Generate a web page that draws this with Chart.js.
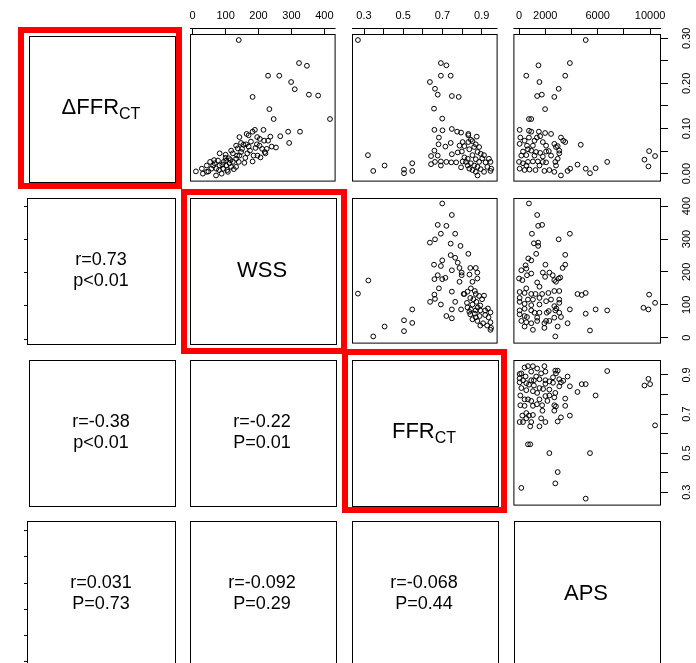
<!DOCTYPE html>
<html>
<head>
<meta charset="utf-8">
<script src="https://cdn.jsdelivr.net/npm/chart.js@4.4.1/dist/chart.umd.min.js"></script>
<style>
  html, body { margin: 0; padding: 0; background: #fff; overflow: hidden; }
  #fig { position: relative; width: 696px; height: 663px; overflow: hidden; font-family: 'Liberation Sans', Arial, sans-serif; }
  #fig canvas { position: absolute; }
  .txt { position: absolute; display: flex; flex-direction: column; align-items: center; justify-content: center; color: #000; text-align: center; }
  .stat { font-size: 18px; line-height: 21px; }
  .diag { font-size: 22px; line-height: 26px; }
  .diag sub { font-size: 16px; vertical-align: baseline; position: relative; top: 5px; }
  .frame { position: absolute; border: 6px solid #ff0000; box-sizing: border-box; }
</style>
</head>
<body>
<div id="fig"></div>
<script>
// ---- data ----
// row ΔFFR / column WSS
const dffrWssX = [140,323,347,229,263,299,310,182,353,381,233,246,417,215,326,290,266,236,293,253,217,189,182,164,170,142,196,204,229,177,147,154,162,132,137,174,191,203,211,219,197,182,206,221,117,122,100,82,110,132,140,157,132,112,94,77,67,53,43,28,10,31,48,71,88,57,93,102,117,82,72,43,107,122,142,147,166,102,62,90,115,125,160,185,150,170,195,225,240,105,80,65,135,100]
const dffrWssY = [0.296,0.245,0.239,0.217,0.217,0.203,0.187,0.170,0.175,0.173,0.143,0.121,0.121,0.097,0.093,0.093,0.083,0.082,0.068,0.058,0.073,0.097,0.093,0.088,0.085,0.081,0.081,0.077,0.073,0.071,0.068,0.064,0.065,0.062,0.056,0.051,0.057,0.062,0.055,0.048,0.040,0.027,0.036,0.045,0.051,0.045,0.042,0.045,0.034,0.033,0.026,0.024,0.015,0.023,0.026,0.029,0.023,0.026,0.018,0.011,0.005,0.000,0.005,-0.004,0.000,0.011,0.011,0.018,0.015,0.018,0.011,0.004,0.004,0.026,0.040,0.048,0.045,0.029,0.018,0.020,0.030,0.010,0.035,0.040,0.055,0.060,0.065,0.055,0.060,0.008,0.008,0.030,0.040,0.035]

// row ΔFFR / column FFR
const dffrFfrX = [0.269,0.692,0.720,0.692,0.742,0.636,0.662,0.676,0.748,0.783,0.657,0.699,0.659,0.700,0.748,0.775,0.795,0.682,0.742,0.680,0.715,0.659,0.748,0.642,0.676,0.662,0.642,0.692,0.720,0.745,0.770,0.692,0.803,0.795,0.320,0.405,0.347,0.504,0.504,0.546,0.546,0.832,0.832,0.875,0.853,0.832,0.812,0.787,0.862,0.837,0.879,0.799,0.895,0.912,0.853,0.829,0.870,0.887,0.920,0.945,0.845,0.862,0.837,0.879,0.895,0.929,0.949,0.912,0.879,0.853,0.945,0.812,0.820,0.903,0.937,0.870,0.845,0.870,0.803,0.778,0.887,0.829]
const dffrFfrY = [0.296,0.245,0.240,0.217,0.217,0.203,0.188,0.175,0.172,0.170,0.144,0.122,0.097,0.096,0.099,0.093,0.091,0.080,0.068,0.065,0.060,0.051,0.043,0.039,0.040,0.026,0.021,0.027,0.026,0.025,0.025,0.018,0.027,0.014,0.041,0.018,0.006,0.009,0.001,0.023,0.006,0.088,0.085,0.082,0.072,0.070,0.061,0.062,0.059,0.054,0.048,0.049,0.044,0.041,0.041,0.033,0.032,0.026,0.025,0.026,0.023,0.018,0.011,0.015,0.010,0.015,0.011,0.004,-0.004,0.008,0.006,0.036,0.026,0.034,0.033,0.004,0.075,0.065,0.070,0.047,0.059,0.018]

// row ΔFFR / column APS
const dffrApsX = [5087,3878,1482,552,3523,1557,3024,1383,1739,2691,1988,756,930,45,756,930,1512,1988,2442,3198,3373,3523,98,1361,1610,756,45,605,1058,2691,2948,2064,4709,302,930,1610,2064,2268,3069,3069,174,552,1179,1814,0,302,680,1058,1436,1814,2064,2767,2948,45,423,801,1255,1935,2313,2691,3198,3704,3900,4460,5087,5412,5843,6727,9570,9925,10379,9873,423,1179,1814,2820,680,1300,2442,2820,1557,552]
const dffrApsY = [0.296,0.245,0.240,0.217,0.217,0.203,0.188,0.172,0.175,0.170,0.143,0.121,0.121,0.097,0.095,0.093,0.093,0.090,0.088,0.080,0.073,0.070,0.080,0.080,0.083,0.080,0.066,0.062,0.062,0.066,0.061,0.062,0.064,0.049,0.051,0.046,0.049,0.050,0.051,0.045,0.040,0.041,0.040,0.038,0.026,0.023,0.026,0.027,0.027,0.026,0.025,0.026,0.033,0.011,0.008,0.009,0.008,0.006,0.008,0.004,-0.004,0.006,0.011,0.020,0.011,0.001,0.012,0.026,0.031,0.050,0.039,0.016,0.073,0.073,0.070,0.059,0.054,0.048,0.040,0.018,0.018,0.018]

// row WSS / column FFR
const wssFfrX = [0.699,0.748,0.676,0.720,0.692,0.765,0.662,0.636,0.742,0.792,0.832,0.742,0.699,0.765,0.778,0.657,0.692,0.787,0.842,0.870,0.748,0.798,0.838,0.878,0.878,0.676,0.699,0.659,0.715,0.798,0.787,0.853,0.322,0.269,0.682,0.748,0.808,0.845,0.865,0.659,0.662,0.637,0.692,0.765,0.748,0.795,0.546,0.720,0.748,0.504,0.546,0.405,0.504,0.347,0.812,0.828,0.842,0.870,0.887,0.912,0.825,0.853,0.873,0.893,0.845,0.870,0.893,0.918,0.945,0.842,0.865,0.890,0.918,0.935,0.853,0.878,0.907,0.945,0.893,0.928,0.948,0.945,0.870,0.828,0.932,0.858,0.880,0.902,0.837]
const wssFfrY = [408,373,343,340,316,316,299,289,286,279,255,251,235,243,228,222,218,212,212,212,205,198,192,198,180,190,178,178,182,190,170,170,174,134,150,140,133,150,142,131,118,109,101,109,86,86,86,66,59,53,45,34,20,4,133,140,121,133,127,128,106,101,109,98,86,83,83,83,77,71,73,66,69,62,56,51,44,47,37,37,30,24,62,92,89,117,92,117,79]

// row WSS / column APS
const wssApsX = [756,1383,1459,1761,983,3878,3024,1134,1459,1459,1308,3523,703,930,499,3523,2011,174,552,3326,0,249,930,605,1814,2317,1988,2570,3024,3148,2817,2691,1383,1560,552,45,423,930,1255,1761,2239,2691,3069,4460,4785,5087,45,680,1058,1557,2064,3069,45,423,930,1557,2691,3069,45,423,930,1179,2117,2268,2767,2843,3878,5843,6727,9494,9873,9925,10379,5087,45,423,605,1383,2064,2691,3198,174,552,930,1383,1935,2313,3704,423,1058,1935,2948,5412,2767,3069,1557,2442]
const wssApsY = [408,373,340,343,316,316,299,287,289,279,255,252,241,235,220,222,222,205,210,212,180,175,195,190,198,198,185,190,180,183,170,175,168,155,150,139,136,133,133,133,136,142,142,133,130,136,121,116,116,121,111,116,109,103,99,101,96,106,83,88,83,76,76,81,83,89,86,86,83,91,86,131,106,73,71,66,63,61,51,61,63,51,47,44,51,44,51,44,34,24,30,34,22,4,76,76,116]

// row FFR / column APS
const ffrApsX = [6727,174,5087,2767,2948,2313,5412,680,854,10379,9873,10001,9570,5843,4460,4785,5087,3878,3704,3878,3523,3523,3198,2948,2691,2817,2691,2011,1557,1686,45,302,854,930,552,756,1058,249,552,98,423,680,930,1058,1361,1557,1761,2011,2313,2691,98,174,45,302,499,174,423,680,1058,1383,1935,2011,1308,1557,930,756,1134,1557,2011,2313,2590,2817,2948,2767,3069,3198,3373,45,552,1058,1835,2313,2767,45,930,1686,1134,2011,2590,552,1383,423,2164,1786,3069]
const ffrApsY = [0.920,0.322,0.267,0.345,0.403,0.500,0.500,0.545,0.545,0.642,0.880,0.853,0.846,0.795,0.813,0.853,0.853,0.842,0.892,0.692,0.742,0.779,0.683,0.662,0.717,0.739,0.745,0.659,0.637,0.678,0.659,0.659,0.637,0.659,0.678,0.692,0.695,0.692,0.705,0.745,0.742,0.775,0.767,0.742,0.750,0.775,0.745,0.792,0.795,0.785,0.795,0.833,0.862,0.873,0.892,0.908,0.938,0.945,0.945,0.933,0.945,0.917,0.892,0.878,0.873,0.850,0.846,0.833,0.855,0.867,0.888,0.908,0.922,0.922,0.878,0.862,0.870,0.905,0.822,0.817,0.828,0.825,0.808,0.883,0.917,0.908,0.873,0.873,0.860,0.858,0.808,0.775,0.767,0.717,0.842]

// diagonal names and correlation text (lower triangle, row by row)
const diagLabels = ['ΔFFR<sub>CT</sub>', 'WSS', 'FFR<sub>CT</sub>', 'APS']
const corrCells = [[1, 0], [2, 0], [2, 1], [3, 0], [3, 1], [3, 2]]
const corrR = ['r=0.73', 'r=-0.38', 'r=-0.22', 'r=0.031', 'r=-0.092', 'r=-0.068']
const corrP = ['p<0.01', 'p<0.01', 'P=0.01', 'P=0.73', 'P=0.29', 'P=0.44']

// ticks
const dffrTicks = [0, 0.05, 0.10, 0.15, 0.20, 0.25, 0.30]
const dffrTickLabels = ['0.00', '', '0.10', '', '0.20', '', '0.30']
const wssTicks = [0, 100, 200, 300, 400]
const wssTickLabels = ['0', '100', '200', '300', '400']
const ffrTicks = [0.3, 0.4, 0.5, 0.6, 0.7, 0.8, 0.9]
const ffrTickLabels = ['0.3', '', '0.5', '', '0.7', '', '0.9']
const apsTicks = [0, 2000, 4000, 6000, 8000, 10000]
const apsTickLabels = ['0', '2000', '', '6000', '', '10000']

// ---- layout ----
const FONT = "'Liberation Sans', Arial, sans-serif"
Chart.defaults.font.family = FONT
Chart.defaults.color = '#000'

const fig = document.getElementById('fig')
const colL = [27, 188, 350, 512]
const rowT = [34, 196, 358, 519]
const PW = 148, PH = 148

const vars = ['dffr', 'wss', 'ffr', 'aps']
const xLim = { dffr: [-0.0154, 0.3094], wss: [-8, 431], ffr: [0.2387, 0.9762], aps: [-431, 10756] }
const yLim = { dffr: [-0.0154, 0.3094], wss: [-14.8, 424.6], ffr: [0.2365, 0.9765], aps: [-431, 10756] }
const tickVals = { dffr: dffrTicks, wss: wssTicks, ffr: ffrTicks, aps: apsTicks }
const tickText = { dffr: dffrTickLabels, wss: wssTickLabels, ffr: ffrTickLabels, aps: apsTickLabels }

const zip = (xs, ys) => xs.map((x, i) => ({ x, y: ys[i] })).filter(p => p.y !== undefined)
const panels = {
  '0,1': zip(dffrWssX, dffrWssY),
  '0,2': zip(dffrFfrX, dffrFfrY),
  '0,3': zip(dffrApsX, dffrApsY),
  '1,2': zip(wssFfrX, wssFfrY),
  '1,3': zip(wssApsX, wssApsY),
  '2,3': zip(ffrApsX, ffrApsY),
}

const measure = document.createElement('canvas').getContext('2d')
measure.font = '11px ' + FONT
const widest = labels => Math.max(...labels.map(t => measure.measureText(t).width))

const boxPlugin = {
  id: 'panelBox',
  afterDraw(chart, args, opts) {
    const { ctx, chartArea: a } = chart
    ctx.save()
    ctx.strokeStyle = '#000'
    ctx.lineWidth = 1
    ctx.strokeRect(a.left + 0.5, a.top + 0.5, a.right - a.left, a.bottom - a.top)
    if (opts.topLine) {
      ctx.beginPath()
      ctx.moveTo(a.left, a.top - 5.5)
      ctx.lineTo(a.right + 1, a.top - 5.5)
      ctx.stroke()
    }
    ctx.restore()
  }
}

function setTicks(v) {
  return s => { s.ticks = tickVals[v].map(value => ({ value })) }
}

function xScale(v, show, size) {
  return {
    type: 'linear', position: 'top', display: show,
    min: xLim[v][0], max: xLim[v][1],
    afterBuildTicks: setTicks(v),
    afterFit: s => { s.height = size; s.paddingLeft = s.paddingRight = s.paddingTop = s.paddingBottom = 0 },
    grid: { drawOnChartArea: false, drawTicks: true, tickLength: 6, tickColor: '#000', tickWidth: 1 },
    border: { display: false },
    ticks: {
      autoSkip: false, minRotation: 0, maxRotation: 0, padding: 5, color: '#000',
      font: { size: 11 },
      callback: (val, i) => tickText[v][i]
    }
  }
}

function yScale(v, side, size) {
  const right = side === 'right'
  return {
    type: 'linear', position: side || 'left', display: !!side,
    min: yLim[v][0], max: yLim[v][1],
    afterBuildTicks: setTicks(v),
    afterFit: s => { s.width = size; s.paddingLeft = s.paddingRight = s.paddingTop = s.paddingBottom = 0 },
    grid: { drawOnChartArea: false, drawTicks: true, tickLength: right ? 8 : 3, tickColor: '#000', tickWidth: 1 },
    border: { display: true, color: '#000' },
    ticks: {
      display: right, autoSkip: false, minRotation: 90, maxRotation: 90,
      crossAlign: 'center', padding: 27 - 8 - widest(tickText[v]) / 2, color: '#000',
      font: { size: 11 },
      callback: (val, i) => tickText[v][i]
    }
  }
}

function makePanel(r, c) {
  const hasTop = r === 0 && c > 0
  const hasRight = c === 3 && r < 3
  const hasLeft = c === 0 && (r === 1 || r === 3)
  const padT = hasTop ? 34 : 2
  const padR = hasRight ? 36 : 2
  const padL = hasLeft ? 6 : 2
  const padB = 2
  const w = PW + padL + padR, h = PH + padT + padB

  const canvas = document.createElement('canvas')
  canvas.width = w
  canvas.height = h
  canvas.style.left = (colL[c] - padL) + 'px'
  canvas.style.top = (rowT[r] - padT) + 'px'
  canvas.style.width = w + 'px'
  canvas.style.height = h + 'px'
  fig.appendChild(canvas)

  const pts = panels[r + ',' + c]
  new Chart(canvas, {
    type: 'scatter',
    data: {
      datasets: pts ? [{
        data: pts,
        pointRadius: 2.4,
        pointHoverRadius: 2.4,
        borderWidth: 1,
        borderColor: '#000',
        backgroundColor: 'rgba(0,0,0,0)',
      }] : []
    },
    options: {
      responsive: false,
      animation: false,
      devicePixelRatio: 1,
      events: [],
      layout: { padding: { left: hasLeft ? 0 : padL, right: hasRight ? 0 : padR, top: hasTop ? 0 : padT, bottom: padB } },
      plugins: {
        legend: { display: false },
        tooltip: { enabled: false },
        panelBox: { topLine: hasTop }
      },
      scales: {
        x: xScale(vars[c], hasTop, padT),
        y: yScale(vars[r], hasRight ? 'right' : hasLeft ? 'left' : null, hasRight ? padR : padL)
      }
    },
    plugins: [boxPlugin]
  })
}

function addText(r, c, html, cls) {
  const d = document.createElement('div')
  d.className = 'txt ' + cls
  d.style.left = colL[c] + 'px'
  d.style.top = rowT[r] + 'px'
  d.style.width = PW + 'px'
  d.style.height = PH + 'px'
  d.innerHTML = html
  fig.appendChild(d)
}

for (let r = 0; r < 4; r++) {
  for (let c = 0; c < 4; c++) makePanel(r, c)
}

diagLabels.forEach((t, i) => addText(i, i, '<div>' + t + '</div>', 'diag'))
corrCells.forEach(([r, c], i) => addText(r, c, '<div>' + corrR[i] + '</div><div>' + corrP[i] + '</div>', 'stat'))

// red highlight frames round the first three diagonal cells
const frames = [[18, 27, 164, 162], [181, 189, 166, 165], [342, 349, 165, 164]]
frames.forEach(([x, y, w, h]) => {
  const f = document.createElement('div')
  f.className = 'frame'
  f.style.left = x + 'px'
  f.style.top = y + 'px'
  f.style.width = w + 'px'
  f.style.height = h + 'px'
  fig.appendChild(f)
})
</script>
</body>
</html>
